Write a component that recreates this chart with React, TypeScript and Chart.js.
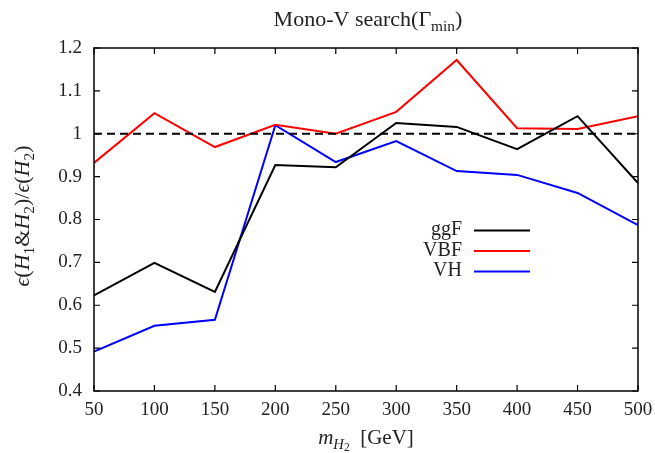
import React, { useEffect, useRef } from "react";
import { Chart, registerables } from "chart.js";

Chart.register(...registerables);

const masses = [50, 100, 150, 200, 250, 300, 350, 400, 450, 500];
const ggF = [0.623, 0.699, 0.631, 0.927, 0.922, 1.025, 1.016, 0.964, 1.041, 0.885];
const VBF = [0.932, 1.048, 0.969, 1.021, 1.0, 1.051, 1.172, 1.013, 1.011, 1.041];
const VH = [0.492, 0.552, 0.566, 1.02, 0.934, 0.983, 0.913, 0.904, 0.862, 0.787];
const reference = [1.0, 1.0];
const referenceX = [50, 500];
const yTicks = [0.4, 0.5, 0.6, 0.7, 0.8, 0.9, 1.0, 1.1, 1.2];
const xTicks = [50, 100, 150, 200, 250, 300, 350, 400, 450, 500];

const FONT = "'Liberation Serif', 'DejaVu Serif', serif";

type Part = { t: string; it?: boolean; lvl?: number };

function drawRich(ctx: CanvasRenderingContext2D, parts: Part[], cx: number, cy: number, size: number) {
  const fontFor = (p: Part) => {
    const s = p.lvl === 2 ? size * 0.55 : p.lvl === 1 ? size * 0.7 : size;
    return `${p.it ? "italic " : ""}${s}px ${FONT}`;
  };
  let total = 0;
  const widths = parts.map((p) => {
    ctx.font = fontFor(p);
    const w = ctx.measureText(p.t).width;
    total += w;
    return w;
  });
  let x = cx - total / 2;
  ctx.textAlign = "left";
  ctx.textBaseline = "alphabetic";
  parts.forEach((p, i) => {
    ctx.font = fontFor(p);
    const dy = p.lvl === 2 ? size * 0.33 : p.lvl === 1 ? size * 0.22 : 0;
    ctx.fillText(p.t, x, cy + dy);
    x += widths[i];
  });
}

const framePlugin = {
  id: "frame",
  afterDraw(chart: any) {
    const { ctx, chartArea: a, scales } = chart;
    const xs = scales.x;
    const ys = scales.y;
    ctx.save();
    ctx.strokeStyle = "#000";
    ctx.lineWidth = 1.5;
    ctx.strokeRect(a.left, a.top, a.right - a.left, a.bottom - a.top);
    ctx.lineWidth = 1.2;
    ctx.beginPath();
    const tl = 6;
    xTicks.forEach((v) => {
      const px = xs.getPixelForValue(v);
      ctx.moveTo(px, a.bottom);
      ctx.lineTo(px, a.bottom - tl);
      ctx.moveTo(px, a.top);
      ctx.lineTo(px, a.top + tl);
    });
    yTicks.forEach((v) => {
      const py = ys.getPixelForValue(v);
      ctx.moveTo(a.left, py);
      ctx.lineTo(a.left + tl, py);
      ctx.moveTo(a.right, py);
      ctx.lineTo(a.right - tl, py);
    });
    ctx.stroke();

    ctx.fillStyle = "#222";
    // title
    drawRich(ctx, [{ t: "Mono-V search(Γ" }, { t: "min", lvl: 1 }, { t: ")" }], 368, 26, 22);
    // x title
    drawRich(ctx, [{ t: "m", it: true }, { t: "H", it: true, lvl: 1 }, { t: "2", lvl: 2 }, { t: "  [GeV]" }], 366, 444, 21);
    // y title
    ctx.save();
    ctx.translate(29, 216);
    ctx.rotate(-Math.PI / 2);
    drawRich(
      ctx,
      [
        { t: "ϵ", it: true },
        { t: "(" },
        { t: "H", it: true },
        { t: "1", lvl: 1 },
        { t: "&" },
        { t: "H", it: true },
        { t: "2", lvl: 1 },
        { t: ")/" },
        { t: "ϵ", it: true },
        { t: "(" },
        { t: "H", it: true },
        { t: "2", lvl: 1 },
        { t: ")" },
      ],
      0,
      0,
      22
    );
    ctx.restore();

    // legend
    const entries = [
      { label: "ggF", color: "#000000" },
      { label: "VBF", color: "#ff0000" },
      { label: "VH", color: "#0000ff" },
    ];
    ctx.font = `20px ${FONT}`;
    ctx.textAlign = "right";
    ctx.textBaseline = "middle";
    entries.forEach((e, i) => {
      const y = 230 + i * 20.5;
      ctx.fillStyle = "#222";
      ctx.fillText(e.label, 462, y);
      ctx.strokeStyle = e.color;
      ctx.lineWidth = 2;
      ctx.beginPath();
      ctx.moveTo(474, y + 0.5);
      ctx.lineTo(530, y + 0.5);
      ctx.stroke();
    });
    ctx.restore();
  },
};

export default function App() {
  const ref = useRef<HTMLCanvasElement | null>(null);
  useEffect(() => {
    document.body.style.margin = "0";
    const toXY = (arr: number[]) => arr.map((y, i) => ({ x: masses[i], y }));
    const chart = new Chart(ref.current!, {
      type: "line",
      data: {
        datasets: [
          {
            label: "ref",
            data: reference.map((y, i) => ({ x: referenceX[i], y })),
            borderColor: "#000",
            borderWidth: 2,
            borderDash: [8, 5],
            pointRadius: 0,
          },
          { label: "ggF", data: toXY(ggF), borderColor: "#000000", borderWidth: 2, pointRadius: 0 },
          { label: "VBF", data: toXY(VBF), borderColor: "#ff0000", borderWidth: 2, pointRadius: 0 },
          { label: "VH", data: toXY(VH), borderColor: "#0000ff", borderWidth: 2, pointRadius: 0 },
        ],
      },
      options: {
        animation: false,
        responsive: false,
        layout: { padding: { left: 0, top: 48, right: 17, bottom: 0 } },
        plugins: { legend: { display: false }, tooltip: { enabled: false } },
        scales: {
          x: {
            type: "linear",
            min: 50,
            max: 500,
            grid: { display: false },
            border: { display: false },
            afterBuildTicks: (s: any) => {
              s.ticks = xTicks.map((v) => ({ value: v }));
            },
            afterFit: (s: any) => {
              s.height = 62;
            },
            ticks: {
              color: "#222",
              font: { family: FONT, size: 19 },
              padding: 0,
              maxRotation: 0,
              callback: (v: any) => String(v),
            },
          },
          y: {
            min: 0.4,
            max: 1.2,
            grid: { display: false },
            border: { display: false },
            afterBuildTicks: (s: any) => {
              s.ticks = yTicks.map((v) => ({ value: v }));
            },
            afterFit: (s: any) => {
              s.width = 94;
            },
            ticks: {
              color: "#222",
              font: { family: FONT, size: 19 },
              padding: 4,
              callback: (v: any) => String(Math.round(Number(v) * 10) / 10),
            },
          },
        },
      },
      plugins: [framePlugin],
    });
    return () => chart.destroy();
  }, []);
  return (
    <div style={{ width: 655, height: 453 }}>
      <canvas ref={ref} width={655} height={453} style={{ display: "block" }} />
    </div>
  );
}
